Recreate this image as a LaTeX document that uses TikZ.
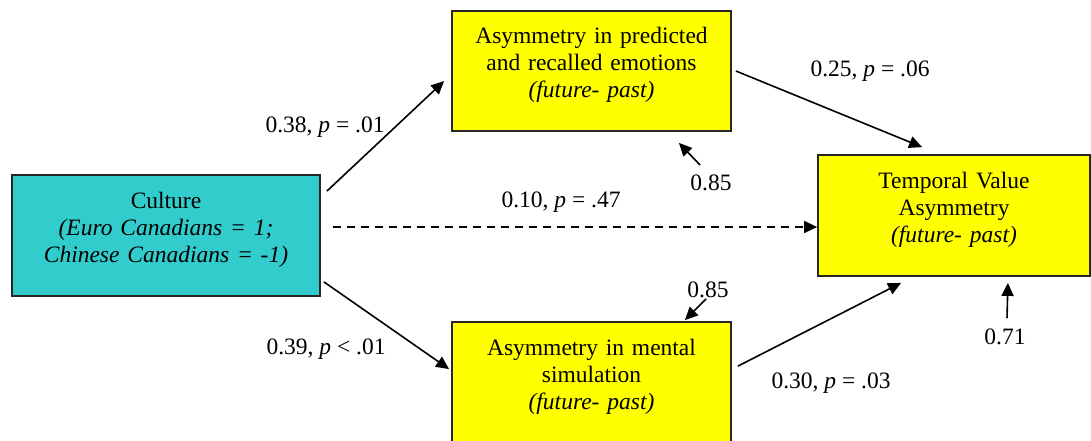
\documentclass[tikz,border=0pt]{standalone}
\usepackage{fontspec}
\setmainfont{Liberation Serif}
\usetikzlibrary{arrows.meta}
\definecolor{cultcol}{RGB}{51,204,204}
\definecolor{boxyellow}{RGB}{255,255,0}
\tikzset{
	box/.style={draw=black!85, line width=0.9pt, align=center, inner sep=0pt, text width=130pt, execute at end node={\par\vspace{6pt}}},
	link/.style={line width=0.8pt, -{Triangle[length=6.5pt,width=6pt]}},
}
\begin{document}
\begin{tikzpicture}[x=0.5pt, y=-0.5pt, font=\fontsize{11.75}{13.5}\selectfont]
	\useasboundingbox (0,0) rectangle (1091,440);
	\node[box, fill=cultcol, minimum width=154pt, minimum height=60.5pt, text width=145pt] (cult) at (166,235.5) {Culture\\ \textit{(Euro Canadians = 1;}\\ \textit{Chinese Canadians = -1)}};
	\node[box, fill=boxyellow, minimum width=139.5pt, minimum height=60pt] (emo) at (591.5,71) {Asymmetry in predicted\\ and recalled emotions\\ \textit{(future- past)}};
	\node[box, fill=boxyellow, minimum width=139.5pt, minimum height=61pt] (sim) at (591.5,383) {Asymmetry in mental\\ simulation\\ \textit{(future- past)}};
	\node[box, fill=boxyellow, minimum width=136pt, minimum height=60.5pt] (tva) at (954,215.5) {Temporal Value\\ Asymmetry\\ \textit{(future- past)}};

	\node (l1) at (325,127) {0.38, \textit{p} = .01};
	\node (l2) at (326,349) {0.39, \textit{p} < .01};
	\node (l3) at (561,202) {0.10, \textit{p} = .47};
	\node (l4) at (870,71) {0.25, \textit{p} = .06};
	\node (l5) at (831,383) {0.30, \textit{p} = .03};
	\node (r1) at (711,183) {0.85};
	\node (r2) at (708,290) {0.85};
	\node (r3) at (1005,337) {0.71};

	\draw[link] ([shift={(6,17)}]cult.north east) -- ([shift={(-7,71)}]emo.north west);
	\draw[link] ([shift={(3,-15)}]cult.south east) -- ([shift={(-2,48)}]sim.north west);
	\draw[link, dash pattern=on 4pt off 3pt] ([shift={(12,-8.5)}]cult.east) -- ([shift={(0,11.5)}]tva.west);
	\draw[link] ([shift={(4,0)}]emo.east) -- ([shift={(105,-7)}]tva.north west);
	\draw[link] ([shift={(6,45)}]sim.north east) -- ([shift={(84,6)}]tva.south west);
	\draw[link] ([shift={(-11,-18)}]r1.center) -- ([shift={(-53,11)}]emo.south east);
	\draw[link] ([shift={(-2,9)}]r2.center) -- ([shift={(-47,-1)}]sim.north east);
	\draw[link] ([shift={(2,-19)}]r3.center) -- ([shift={(-83,6)}]tva.south east);
\end{tikzpicture}
\end{document}
